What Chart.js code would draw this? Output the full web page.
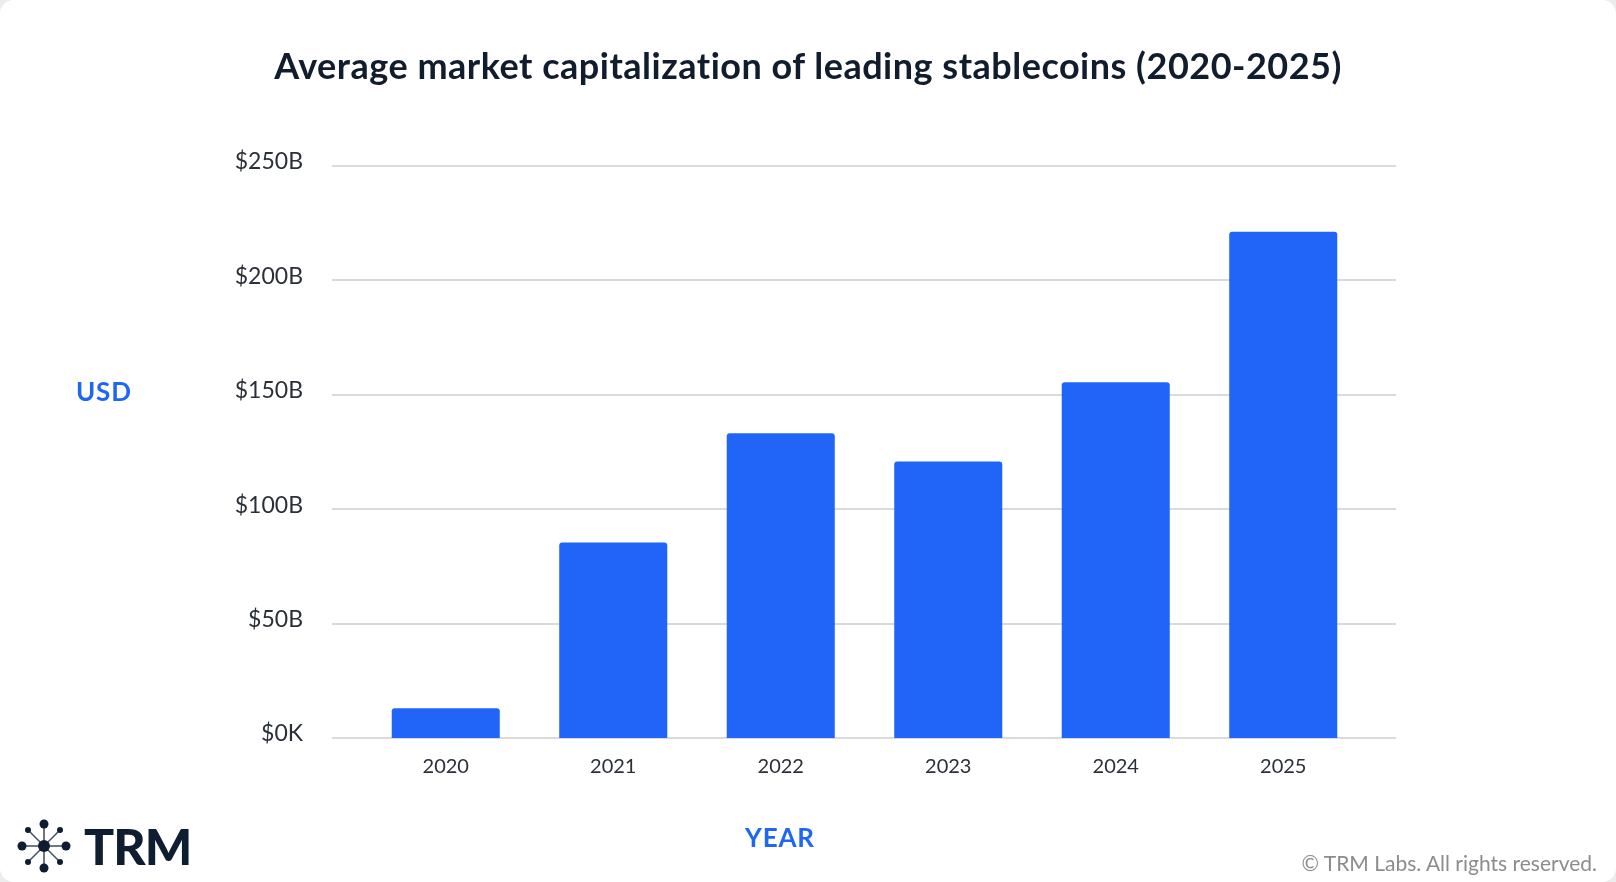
<!DOCTYPE html>
<html>
<head>
<meta charset="utf-8">
<script src="https://cdn.jsdelivr.net/npm/chart.js@4/dist/chart.umd.min.js"></script>
<style>
    html, body { margin: 0; padding: 0; background: #ececec; }
    .card {
        position: relative;
        width: 1616px;
        height: 882px;
        background: #ffffff;
        border-radius: 14px;
        overflow: hidden;
        font-family: Lato, 'Noto Sans', sans-serif;
    }
    #stableChart { position: absolute; left: 0; top: 0; }
    .title {
        position: absolute; left: 0; top: 43px; width: 1616px;
        text-align: center; font-size: 36px; font-weight: 700; color: #111c2c;
        letter-spacing: 0.5px;
    }
    .axisLabel {
        position: absolute; font-size: 26px; font-weight: 700; color: #1f66f5;
        letter-spacing: 0.8px;
    }
    .brand {
        position: absolute; left: 16px; top: 818px; display: flex; align-items: center;
    }
    .brand span {
        font-size: 50px; font-weight: 900; color: #0f1d30; margin-left: 12px;
        letter-spacing: -1px; line-height: 1;
    }
    .copyright {
        position: absolute; right: 19px; top: 850px; font-size: 21px; color: #8c8c8c;
    }
</style>
</head>
<body>
<div class="card">
    <canvas id="stableChart" width="1616" height="882"></canvas>
    <div class="title">Average market capitalization of leading stablecoins (2020-2025)</div>
    <div class="axisLabel" style="left:76px; top:375px;">USD</div>
    <div class="axisLabel" style="left:745px; top:821px;">YEAR</div>
    <div class="brand">
        <svg width="56" height="56" viewBox="0 0 56 56">
            <g stroke="#4a5563" stroke-width="1.6">
                <line x1="28" y1="28" x2="28" y2="6"/>
                <line x1="28" y1="28" x2="28" y2="50"/>
                <line x1="28" y1="28" x2="6" y2="28"/>
                <line x1="28" y1="28" x2="50" y2="28"/>
                <line x1="28" y1="28" x2="12" y2="12"/>
                <line x1="28" y1="28" x2="44" y2="12"/>
                <line x1="28" y1="28" x2="12" y2="44"/>
                <line x1="28" y1="28" x2="44" y2="44"/>
            </g>
            <g fill="#0f1d30">
                <circle cx="28" cy="28" r="6"/>
                <circle cx="28" cy="6" r="4.5"/>
                <circle cx="28" cy="50" r="4.5"/>
                <circle cx="6" cy="28" r="4.5"/>
                <circle cx="50" cy="28" r="4.5"/>
                <circle cx="12" cy="12" r="3"/>
                <circle cx="44" cy="12" r="3"/>
                <circle cx="12" cy="44" r="3"/>
                <circle cx="44" cy="44" r="3"/>
            </g>
        </svg>
        <span>TRM</span>
    </div>
    <div class="copyright">© TRM Labs. All rights reserved.</div>
</div>

<script>
    // data (billions USD)
    const years = ['2020', '2021', '2022', '2023', '2024', '2025'];
    const avgMarketCap = [13, 85.4, 133.2, 120.8, 155.5, 221.3];
    const yTickValues = [0, 50, 100, 150, 200, 250];
    const yTickLabels = ['$0K', '$50B', '$100B', '$150B', '$200B', '$250B'];

    const barColor = '#2065f7';
    const gridColor = '#dadada';

    /* gridlines reach a bit past the bars on both sides */
    const wideGrid = {
        id: 'wideGrid',
        beforeDatasetsDraw(chart) {
            const ctx = chart.ctx;
            const area = chart.chartArea;
            const yScale = chart.scales.y;
            ctx.save();
            ctx.strokeStyle = gridColor;
            ctx.lineWidth = 2;
            yTickValues.forEach(v => {
                const y = Math.round(yScale.getPixelForValue(v));
                ctx.beginPath();
                ctx.moveTo(area.left - 30, y);
                ctx.lineTo(area.right + 29, y);
                ctx.stroke();
            });
            ctx.restore();
        }
    };

    const ctx = document.getElementById('stableChart').getContext('2d');

    new Chart(ctx, {
        type: 'bar',
        data: {
            labels: years,
            datasets: [{
                data: avgMarketCap,
                backgroundColor: barColor,
                borderRadius: { topLeft: 3, topRight: 3 },
                borderSkipped: 'start',
                categoryPercentage: 1,
                barPercentage: 0.645
            }]
        },
        options: {
            responsive: false,
            animation: false,
            devicePixelRatio: 1,
            layout: {
                padding: { top: 166, right: 249, left: 0, bottom: 0 }
            },
            plugins: {
                legend: { display: false },
                tooltip: { enabled: false },
                title: { display: false }
            },
            scales: {
                x: {
                    grid: { display: false, drawTicks: false },
                    border: { display: false },
                    ticks: {
                        color: '#2b3038',
                        font: { family: 'Lato', size: 20 },
                        padding: 17
                    },
                    afterFit(scale) { scale.height = 144; }
                },
                y: {
                    min: 0,
                    max: 250,
                    afterBuildTicks(scale) {
                        scale.ticks = yTickValues.map(v => ({ value: v }));
                    },
                    grid: { display: false, drawTicks: false },
                    border: { display: false },
                    ticks: {
                        color: '#2b3038',
                        font: { family: 'Lato', size: 23 },
                        padding: 59,
                        labelOffset: -4,
                        callback: (value) => yTickLabels[yTickValues.indexOf(value)]
                    },
                    afterFit(scale) { scale.width = 362; }
                }
            }
        },
        plugins: [wideGrid]
    });
</script>
</body>
</html>
